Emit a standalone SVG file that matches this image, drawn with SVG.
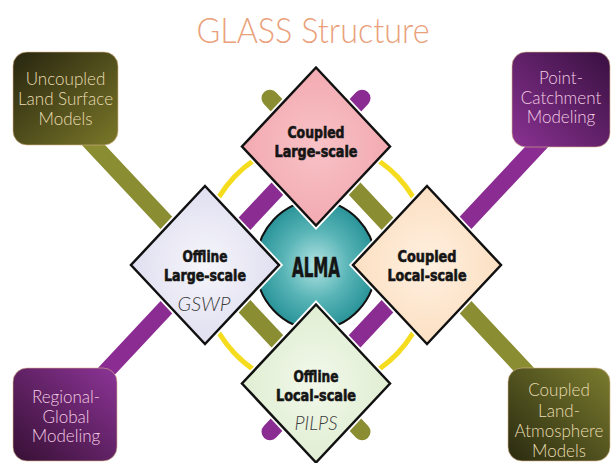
<svg xmlns="http://www.w3.org/2000/svg" width="611" height="463" viewBox="0 0 611 463">
<defs>
<linearGradient id="gOliveTL" x1="0" y1="0" x2="1" y2="1"><stop offset="0" stop-color="#27250f"/><stop offset="1" stop-color="#7a7729"/></linearGradient>
<linearGradient id="gPurpleTR" x1="1" y1="0" x2="0" y2="1"><stop offset="0" stop-color="#381040"/><stop offset="1" stop-color="#8a3292"/></linearGradient>
<linearGradient id="gPurpleBL" x1="0" y1="1" x2="1" y2="0"><stop offset="0" stop-color="#361034"/><stop offset="1" stop-color="#8c3496"/></linearGradient>
<linearGradient id="gOliveBR" x1="0" y1="1" x2="1" y2="0"><stop offset="0" stop-color="#2a2a10"/><stop offset="1" stop-color="#7a7c2e"/></linearGradient>
<radialGradient id="gTeal" cx="0.5" cy="0.5" r="0.5"><stop offset="0" stop-color="#b4e4e4"/><stop offset="0.55" stop-color="#58b4b6"/><stop offset="1" stop-color="#2a9499"/></radialGradient>
<radialGradient id="gPink" cx="0.5" cy="0.5" r="0.6"><stop offset="0" stop-color="#f8c2c6"/><stop offset="1" stop-color="#f1a6ad"/></radialGradient>
<radialGradient id="gLav" cx="0.5" cy="0.5" r="0.6"><stop offset="0" stop-color="#f6f6fb"/><stop offset="1" stop-color="#dcdaee"/></radialGradient>
<radialGradient id="gPeach" cx="0.5" cy="0.5" r="0.6"><stop offset="0" stop-color="#fff0e0"/><stop offset="1" stop-color="#fbdcbc"/></radialGradient>
<radialGradient id="gGreen" cx="0.5" cy="0.5" r="0.6"><stop offset="0" stop-color="#f2f8ea"/><stop offset="1" stop-color="#dcecce"/></radialGradient>
</defs>
<style>
.bar{fill:none;stroke-width:17;stroke-linecap:round}
.olive{stroke:#8b8d32}
.purple{stroke:#8b2c92}
.ring{fill:none;stroke:#f6dc1e;stroke-width:5}
.halo{fill:none;stroke:#ffffff;stroke-width:6;stroke-linejoin:miter}
.dia{stroke:#111111;stroke-width:2.5;stroke-linejoin:miter}
.box{stroke:#d9b48a;stroke-width:1;stroke-opacity:0.6}
.lbl{font-family:"DejaVu Sans Condensed","Liberation Sans Narrow","Liberation Sans",sans-serif;font-weight:bold;font-size:16px;fill:#151515;stroke:#151515;stroke-width:0.6;text-anchor:middle}
.sub{font-family:"Lato","Open Sans","Liberation Sans",sans-serif;font-style:italic;font-weight:300;font-size:19px;fill:#3c3c3c;text-anchor:middle}
.btxt{font-family:"Lato","Open Sans","Liberation Sans",sans-serif;font-weight:300;font-size:17px;text-anchor:middle}
.tan{fill:#eadcb2}
.pink{fill:#f2cce2}
.title{font-family:"Lato","Open Sans","Liberation Sans",sans-serif;font-weight:300;font-size:36px;fill:#eaa17b;text-anchor:middle}
</style>
<rect width="611" height="463" fill="#ffffff"/>
<text class="title" x="313" y="43" textLength="233" lengthAdjust="spacingAndGlyphs">GLASS Structure</text>
<g id="connectors">
<line class="bar olive" x1="70" y1="120" x2="362" y2="431.7"/>
<line class="bar olive" x1="270" y1="98.3" x2="561.8" y2="410"/>
<line class="bar purple" x1="561.8" y1="120" x2="270" y2="431.7"/>
<line class="bar purple" x1="362" y1="98.3" x2="70.2" y2="410"/>
</g>
<g id="ring"><ellipse class="ring" cx="316" cy="265" rx="116" ry="124"/></g>
<g id="alma">
<ellipse cx="316" cy="265" rx="60" ry="64" fill="url(#gTeal)" stroke="#111" stroke-width="2"/>
</g>
<g id="coupled-large">
<polygon class="halo" points="316,67.5 390,146.5 316,225.5 242,146.5"/>
<polygon class="dia" fill="url(#gPink)" points="316,67.5 390,146.5 316,225.5 242,146.5"/>
<text class="lbl" x="316" y="138" textLength="57" lengthAdjust="spacingAndGlyphs">Coupled</text>
<text class="lbl" x="316" y="157" textLength="83" lengthAdjust="spacingAndGlyphs">Large-scale</text>
</g>
<g id="offline-large">
<polygon class="halo" points="205,186 279,265 205,344 131,265"/>
<polygon class="dia" fill="url(#gLav)" points="205,186 279,265 205,344 131,265"/>
<text class="lbl" x="205" y="262" textLength="45" lengthAdjust="spacingAndGlyphs">Offline</text>
<text class="lbl" x="205" y="281" textLength="82" lengthAdjust="spacingAndGlyphs">Large-scale</text>
<text class="sub" x="204" y="311" textLength="53" lengthAdjust="spacingAndGlyphs">GSWP</text>
</g>
<g id="coupled-local">
<polygon class="halo" points="427,186 501,265 427,344 353,265"/>
<polygon class="dia" fill="url(#gPeach)" points="427,186 501,265 427,344 353,265"/>
<text class="lbl" x="427" y="262" textLength="59" lengthAdjust="spacingAndGlyphs">Coupled</text>
<text class="lbl" x="427" y="281" textLength="79" lengthAdjust="spacingAndGlyphs">Local-scale</text>
</g>
<g id="offline-local">
<polygon class="halo" points="316,304.5 390,383.5 316,462.5 242,383.5"/>
<polygon class="dia" fill="url(#gGreen)" points="316,304.5 390,383.5 316,462.5 242,383.5"/>
<text class="lbl" x="316" y="382" textLength="45" lengthAdjust="spacingAndGlyphs">Offline</text>
<text class="lbl" x="316" y="401" textLength="80" lengthAdjust="spacingAndGlyphs">Local-scale</text>
<text class="sub" x="316" y="430" textLength="43" lengthAdjust="spacingAndGlyphs">PILPS</text>
</g>
<g id="alma-label">
<text class="lbl" x="316" y="277" style="font-size:26px" textLength="48" lengthAdjust="spacingAndGlyphs">ALMA</text>
</g>
<g id="uncoupled-lsm">
<rect class="box" x="13" y="52" width="105" height="93" rx="14" fill="url(#gOliveTL)"/>
<text class="btxt tan" x="65.5" y="85">Uncoupled</text>
<text class="btxt tan" x="65.5" y="105">Land Surface</text>
<text class="btxt tan" x="65.5" y="125">Models</text>
</g>
<g id="point-catchment">
<rect class="box" x="512" y="52" width="98" height="95" rx="14" fill="url(#gPurpleTR)"/>
<text class="btxt pink" x="561" y="84">Point-</text>
<text class="btxt pink" x="561" y="104">Catchment</text>
<text class="btxt pink" x="561" y="123">Modeling</text>
</g>
<g id="regional-global">
<rect class="box" x="13" y="368" width="104" height="93" rx="14" fill="url(#gPurpleBL)"/>
<text class="btxt pink" x="66" y="403">Regional-</text>
<text class="btxt pink" x="66" y="423">Global</text>
<text class="btxt pink" x="66" y="442">Modeling</text>
</g>
<g id="coupled-land-atmosphere">
<rect class="box" x="508" y="368" width="102" height="93" rx="14" fill="url(#gOliveBR)"/>
<text class="btxt tan" x="559" y="396">Coupled</text>
<text class="btxt tan" x="559" y="417">Land-</text>
<text class="btxt tan" x="559" y="437">Atmosphere</text>
<text class="btxt tan" x="559" y="457">Models</text>
</g>
</svg>
